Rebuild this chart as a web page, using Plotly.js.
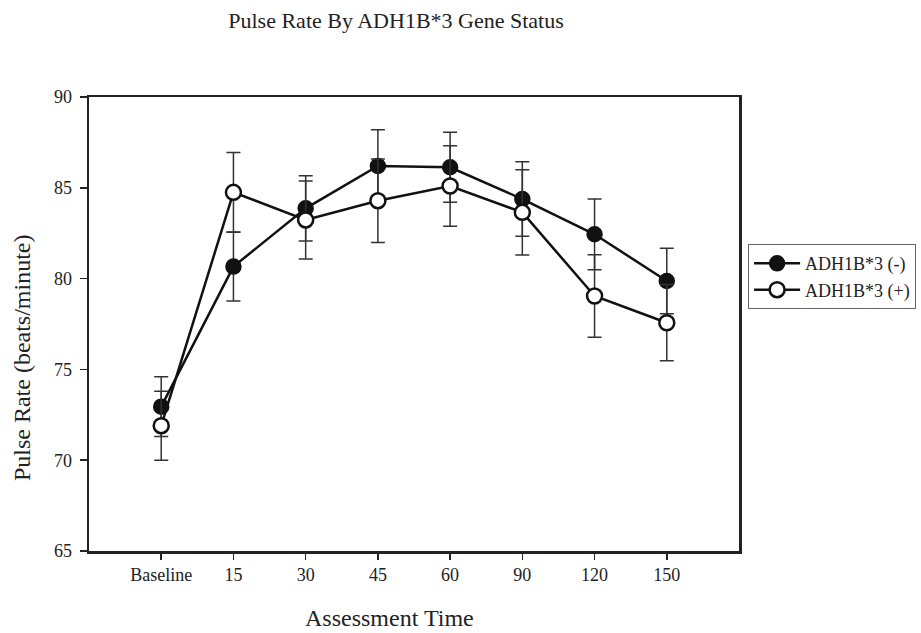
<!DOCTYPE html>
<html>
<head>
<meta charset="utf-8">
<script src="https://cdn.plot.ly/plotly-3.0.1.min.js"></script>
<style>html,body{margin:0;padding:0;background:#fff;}#chart{width:921px;height:633px;}</style>
</head>
<body>
<div id="chart"></div>
<script>
const categories = ['Baseline', '15', '30', '45', '60', '90', '120', '150'];
const negName = 'ADH1B*3 (-)';
const posName = 'ADH1B*3 (+)';
const negValues = [72.95, 80.66, 83.87, 86.20, 86.13, 84.38, 82.44, 79.87];
const negErrors = [1.65, 1.90, 1.80, 2.00, 1.93, 2.05, 1.95, 1.80];
const posValues = [71.90, 84.75, 83.23, 84.29, 85.10, 83.65, 79.04, 77.57];
const posErrors = [1.90, 2.20, 2.15, 2.30, 2.22, 2.35, 2.27, 2.10];
const yTicks = [65, 70, 75, 80, 85, 90];
const titleText = 'Pulse Rate By ADH1B*3 Gene Status';
const xTitleText = 'Assessment Time';
const yTitleText = 'Pulse Rate (beats/minute)';

const FONT = 'Liberation Serif, Times New Roman, serif';

const traces = [
  {
    x: categories, y: negValues, name: negName, type: 'scatter', mode: 'lines+markers',
    line: {color: '#111', width: 2.5},
    marker: {symbol: 'circle', size: 15, color: '#111', line: {color: '#111', width: 1.5}},
    error_y: {type: 'data', array: negErrors, visible: true, color: '#333', thickness: 1.5, width: 7}
  },
  {
    x: categories, y: posValues, name: posName, type: 'scatter', mode: 'lines+markers',
    line: {color: '#111', width: 2.5},
    marker: {symbol: 'circle', size: 15, color: '#fff', line: {color: '#111', width: 2.5}},
    error_y: {type: 'data', array: posErrors, visible: true, color: '#333', thickness: 1.5, width: 7}
  }
];

const layout = {
  width: 921, height: 633,
  margin: {l: 89, r: 182, t: 97, b: 82, autoexpand: false},
  paper_bgcolor: '#fff', plot_bgcolor: '#fff',
  font: {family: FONT, color: '#222', size: 18},
  showlegend: true,
  title: {text: titleText, font: {family: FONT, size: 22, color: '#222'},
          x: 0.43, xanchor: 'center', y: 0.968, yanchor: 'middle'},
  xaxis: {
    type: 'category', range: [-1, 8], showgrid: false, zeroline: false,
    showline: true, linecolor: '#222', linewidth: 2.5, mirror: true,
    ticks: 'outside', ticklen: 6, tickwidth: 1.5, tickcolor: '#222',
    tickfont: {family: FONT, size: 18, color: '#222'}
  },
  yaxis: {
    range: [65, 90], tickvals: yTicks, ticktext: yTicks.map(String),
    showgrid: false, zeroline: false,
    showline: true, linecolor: '#222', linewidth: 2.5, mirror: true,
    ticks: 'outside', ticklen: 7, tickwidth: 1.5, tickcolor: '#222',
    ticklabelstandoff: 4,
    tickfont: {family: FONT, size: 18, color: '#222'}
  },
  annotations: [
    {text: xTitleText, xref: 'paper', yref: 'paper', x: 0.463, y: -0.1476,
     xanchor: 'center', yanchor: 'middle', showarrow: false,
     font: {family: FONT, size: 24, color: '#222'}},
    {text: yTitleText, xref: 'paper', yref: 'paper', x: -0.103, y: 0.425,
     xanchor: 'center', yanchor: 'middle', showarrow: false, textangle: -90,
     font: {family: FONT, size: 24, color: '#222'}}
  ],
  legend: {
    x: 1.014, xanchor: 'left', y: 0.676, yanchor: 'top',
    bordercolor: '#666', borderwidth: 1, bgcolor: '#fff',
    font: {family: FONT, size: 18, color: '#222'},
    itemwidth: 46, tracegroupgap: 0
  }
};

Plotly.newPlot('chart', traces, layout, {displayModeBar: false, staticPlot: true});
</script>
</body>
</html>
